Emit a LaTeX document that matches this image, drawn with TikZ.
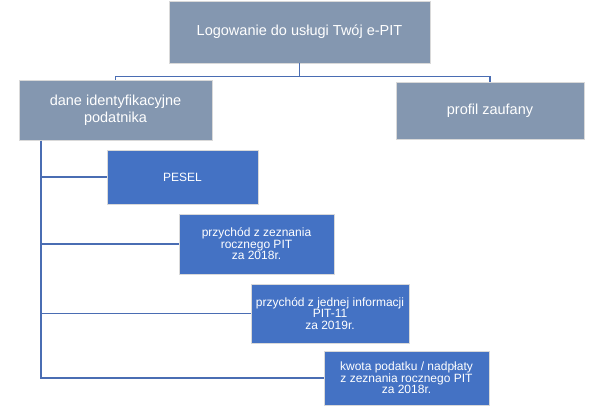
\documentclass[tikz,border=0pt]{standalone}
\usepackage{fontspec}
\setmainfont{Liberation Sans}
\definecolor{grayblue}{HTML}{8497B0}
\definecolor{boxblue}{HTML}{4472C4}
\definecolor{linkblue}{HTML}{4A6DB3}
\definecolor{edge}{HTML}{D9D9D9}

\begin{document}
\begin{tikzpicture}[x=1pt, y=-1pt,
  upper/.style={draw=edge, line width=0.8pt, fill=grayblue, text=white, inner sep=0pt,
    align=center, font=\fontsize{14.5}{17}\selectfont},
  lower/.style={draw=edge, line width=0.8pt, fill=boxblue, text=white, inner sep=0pt,
    align=center, font=\fontsize{12}{11.5}\selectfont},
  link/.style={draw=linkblue, line width=1.3pt}]
\useasboundingbox (0,0) rectangle (600,406);

\node[upper, minimum width=261pt, minimum height=62pt] (login) at (299.5,32) {Logowanie do usługi Twój e-PIT};
\node[upper, minimum width=193pt, minimum height=60pt] (dane) at (115.5,110.5) {dane identyfikacyjne\\podatnika};
\node[upper, minimum width=188pt, minimum height=57pt] (profil) at (490,110.5) {profil zaufany};

\node[lower, minimum width=151pt, minimum height=54pt] (pesel) at (182.5,177) {PESEL};
\node[lower, minimum width=155pt, minimum height=60pt] (zeznanie) at (256.5,244) {przychód z zeznania\\rocznego PIT\\za 2018r.};
\node[lower, minimum width=158pt, minimum height=59pt] (pit11) at (330,313.5) {przychód z jednej informacji\\PIT-11\\za 2019r.};
\node[lower, minimum width=165pt, minimum height=54pt] (kwota) at (406.5,378) {kwota podatku / nadpłaty\\z zeznania rocznego PIT\\za 2018r.};

\draw[link] (login.south) -- ++(0,13) coordinate (bus);
\draw[link] (bus) -| (dane.north);
\draw[link] (bus) -| (profil.north);

\coordinate (spine) at ([xshift=-74.5pt]dane.south);
\foreach \n in {pesel, zeznanie, pit11, kwota}
  \draw[link] (spine) |- (\n.west);
\end{tikzpicture}
\end{document}
